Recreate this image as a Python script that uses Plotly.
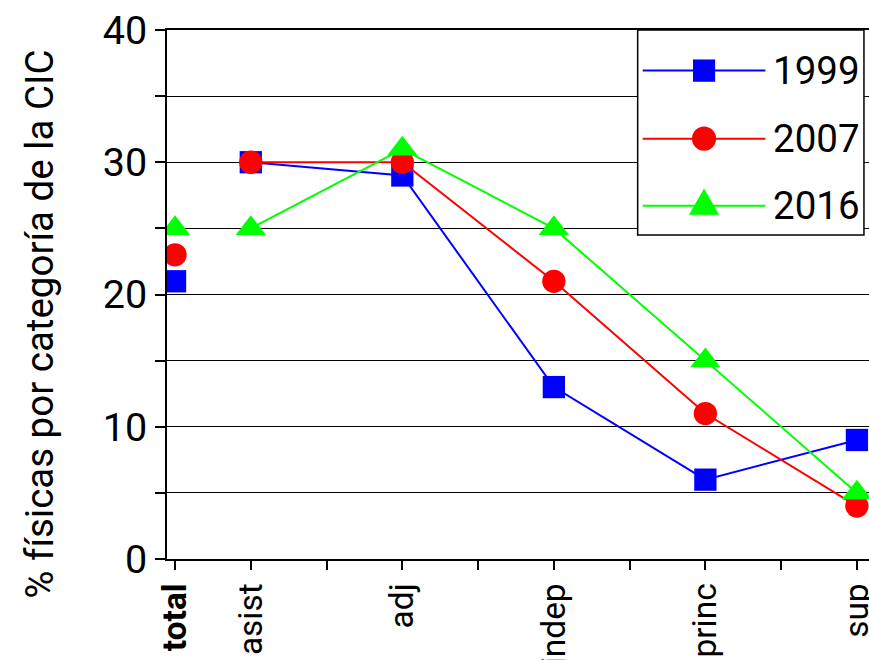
import plotly.graph_objects as go

# ---- data ----
categories = ["total", "asist", "adj", "indep", "princ", "sup"]
years = ["1999", "2007", "2016"]
v1999 = [21, 30, 29, 13, 6, 9]
v2007 = [23, 30, 30, 21, 11, 4]
v2016 = [25, 25, 31, 25, 15, 5]
y_tick_values = [0, 5, 10, 15, 20, 25, 30, 35, 40]
y_tick_labels = ["0", "", "10", "", "20", "", "30", "", "40"]
y_title = "% físicas por categoría de la CIC"

series = [v1999, v2007, v2016]
colors = ["#0000FF", "#FF0000", "#00FF00"]
symbols = ["square", "circle", "triangle-up"]

FONT = "Roboto, Liberation Sans, sans-serif"

# x positions: 'total' sits half a step before the first category
xpos = [0.5] + list(range(1, len(categories)))

# layout canvas (slightly larger than the window)
SW, SH = 869, 660
W, H = 880, 669
KX, KY = W / SW, H / SH
K = (KX + KY) / 2
L = 165 * KX
R = W - 865 * KX
T = 30 * KY
B = H - 551 * KY
PW, PH = W - L - R, H - T - B

def xp(px):
    return (px * KX - L) / PW

def yp(py):
    return (H - B - py * KY) / PH

msizes = [22 * K, 23 * K, 26 * K]

fig = go.Figure()
for name, vals, col, sym, ms in zip(years, series, colors, symbols, msizes):
    fig.add_trace(go.Scatter(
        x=xpos[1:], y=vals[1:], mode="lines+markers", name=name,
        line=dict(color=col, width=2),
        marker=dict(symbol=sym, size=ms, color=col, line=dict(width=0)),
        showlegend=False,
    ))
for name, vals, col, sym, ms in zip(years, series, colors, symbols, msizes):
    fig.add_trace(go.Scatter(
        x=[xpos[0]], y=[vals[0]], mode="markers", name=name + " total",
        marker=dict(symbol=sym, size=ms, color=col, line=dict(width=0)),
        showlegend=False,
    ))

# x ticks at categories plus minor half-steps
tickvals = []
ticktext = []
for i, c in enumerate(categories):
    tickvals.append(xpos[i])
    ticktext.append("<b>%s</b>" % c if c == "total" else c)
for i in range(1, len(categories) - 1):
    tickvals.append(xpos[i] + 0.5)
    ticktext.append("")

fig.update_layout(
    width=W, height=H,
    margin=dict(l=L, r=R, t=T, b=B, pad=0),
    paper_bgcolor="white", plot_bgcolor="white",
    showlegend=False,
    font=dict(family=FONT, color="black"),
    xaxis=dict(
        range=[0.447, 5.093], tickvals=tickvals, ticktext=ticktext,
        tickangle=-90, tickfont=dict(size=33 * K, family=FONT),
        ticks="outside", ticklen=9, tickwidth=2, tickcolor="black",
        ticklabeloverflow="allow",
        showgrid=False, zeroline=False,
        showline=True, linecolor="black", linewidth=2, mirror=True,
    ),
    yaxis=dict(
        range=[0, 40], tickvals=y_tick_values, ticktext=y_tick_labels,
        tickfont=dict(size=39 * K, family=FONT),
        ticks="outside", ticklen=10, tickwidth=1.5, tickcolor="black",
        ticklabeloverflow="allow",
        showgrid=True, gridcolor="black", gridwidth=1, zeroline=False,
        showline=True, linecolor="black", linewidth=2, mirror=True,
    ),
)

annotations = [dict(
    text=y_title, xref="paper", yref="paper", x=xp(38), y=yp(320),
    xanchor="center", yanchor="middle", textangle=-90, showarrow=False,
    font=dict(size=38 * K, family=FONT, color="black"),
)]

# custom legend
shapes = [dict(type="rect", xref="paper", yref="paper",
               x0=xp(633), x1=xp(858), y0=yp(232), y1=yp(30),
               line=dict(color="black", width=1.5), fillcolor="white", layer="above")]
rows = [70, 137, 203]
mx = 699
for name, col, sym, row in zip(years, colors, symbols, rows):
    shapes.append(dict(type="line", xref="paper", yref="paper",
                       x0=xp(638), x1=xp(760), y0=yp(row), y1=yp(row),
                       line=dict(color=col, width=2), layer="above"))
    if sym == "square":
        shapes.append(dict(type="rect", xref="paper", yref="paper",
                           x0=xp(mx - 11), x1=xp(mx + 11), y0=yp(row + 11), y1=yp(row - 11),
                           line=dict(width=0), fillcolor=col, layer="above"))
    elif sym == "circle":
        shapes.append(dict(type="circle", xref="paper", yref="paper",
                           x0=xp(mx - 12), x1=xp(mx + 12), y0=yp(row + 12), y1=yp(row - 12),
                           line=dict(width=0), fillcolor=col, layer="above"))
    else:
        path = "M %f %f L %f %f L %f %f Z" % (
            xp(mx - 15), yp(row + 9), xp(mx + 15), yp(row + 9), xp(mx), yp(row - 17))
        shapes.append(dict(type="path", xref="paper", yref="paper", path=path,
                           line=dict(width=0), fillcolor=col, layer="above"))
    annotations.append(dict(
        text=name, xref="paper", yref="paper", x=xp(766), y=yp(row),
        xanchor="left", yanchor="middle", showarrow=False,
        font=dict(size=38 * K, family=FONT, color="black"),
    ))

fig.update_layout(shapes=shapes, annotations=annotations)
page_fix = (
    "document.body.style.margin='0';"
    "document.body.style.padding='0';"
)
fig.write_html("out.html", config={"displayModeBar": False}, post_script=page_fix)
